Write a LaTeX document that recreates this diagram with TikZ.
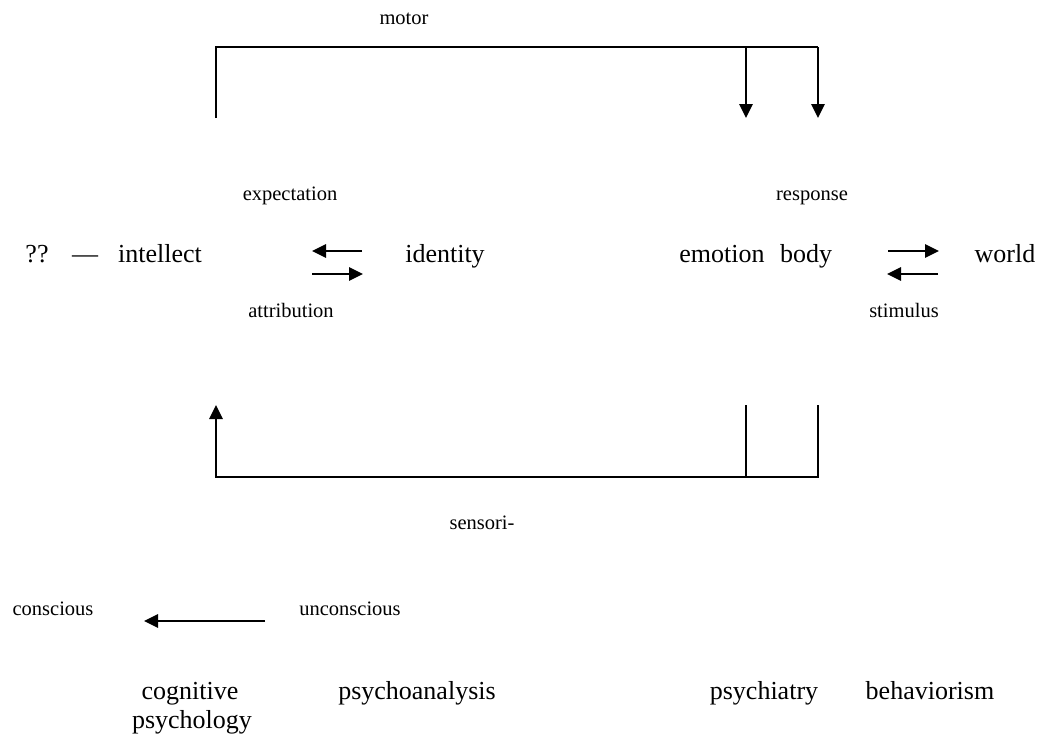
\documentclass[tikz,border=0pt]{standalone}
\usepackage{fontspec}
\setmainfont{Liberation Serif}
\usetikzlibrary{arrows.meta}
\begin{document}
\begin{tikzpicture}[x=1pt,y=-1pt,
  big/.style={inner sep=0pt,anchor=base,font=\fontsize{26}{29}\selectfont},
  small/.style={inner sep=0pt,anchor=base,font=\fontsize{20.5}{24}\selectfont},
  conn/.style={line width=1.6pt},
  arr/.style={conn,-{Triangle[length=14pt,width=13.5pt]}}]
\useasboundingbox (0,0) rectangle (1039,740);
% labels
\node[small] (motor) at (404,24) {motor};
\node[small] (expect) at (290,200) {expectation};
\node[small] (resp) at (812,200) {response};
\node[big] (qq) at (37,262) {??};
\node[big] (dash) at (85,262) {—};
\node[big] (intellect) at (160,262) {intellect};
\node[big] (identity) at (445,262) {identity};
\node[big] (emotion) at (722,262) {emotion};
\node[big] (body) at (806,262) {body};
\node[big] (world) at (1005,262) {world};
\node[small] (attr) at (291,317) {attribution};
\node[small] (stim) at (904,317) {stimulus};
\node[small] (sensori) at (482,529) {sensori-};
\node[small] (conscious) at (53,615) {conscious};
\node[small] (unconscious) at (350,615) {unconscious};
\node[big] (cog) at (190,699) {cognitive};
\node[big] (cog2) at (192,728) {psychology};
\node[big] (psa) at (417,699) {psychoanalysis};
\node[big] (psy) at (764,699) {psychiatry};
\node[big] (beh) at (930,699) {behaviorism};
% short arrows
\coordinate (a1s) at (362,251); \coordinate (a1e) at (312,251);
\coordinate (a2s) at (312,274); \coordinate (a2e) at (363,274);
\draw[arr] (a1s) -- (a1e);
\draw[arr] (a2s) -- (a2e);
\coordinate (b1s) at (888,251); \coordinate (b1e) at (939,251);
\coordinate (b2s) at (938,274); \coordinate (b2e) at (887,274);
\draw[arr] (b1s) -- (b1e);
\draw[arr] (b2s) -- (b2e);
\coordinate (c1s) at (265,621); \coordinate (c1e) at (144,621);
\draw[arr] (c1s) -- (c1e);
% motor loop
\coordinate (tl) at (216,118);
\coordinate (tl2) at (216,47);
\coordinate (tm) at (746,47);
\coordinate (tr) at (818,47);
\coordinate (te) at (746,118);
\coordinate (tb) at (818,118);
\draw[conn] (tl) -- (tl2) -- (tr);
\draw[arr] (tm) -- (te);
\draw[arr] (tr) -- (tb);
% sensori loop
\coordinate (bl) at (216,405);
\coordinate (bl2) at (216,477);
\coordinate (bm) at (746,477);
\coordinate (br) at (818,477);
\coordinate (bmt) at (746,405);
\coordinate (brt) at (818,405);
\draw[conn] (bmt) -- (bm);
\draw[arr] (brt) -- (br) -- (bl2) -- (bl);
\end{tikzpicture}
\end{document}
